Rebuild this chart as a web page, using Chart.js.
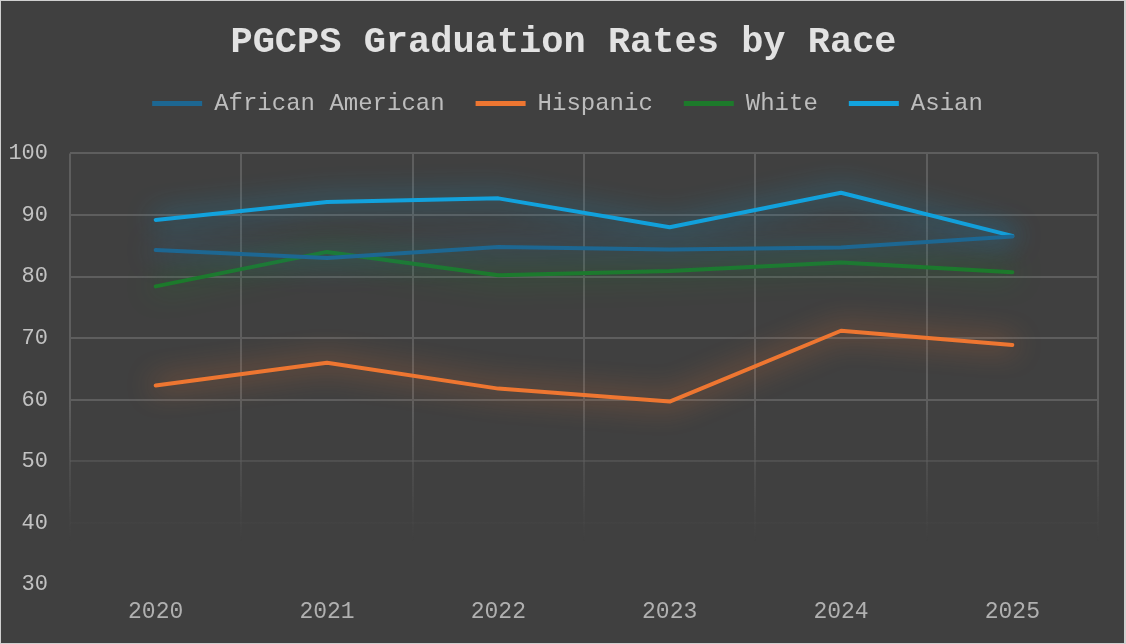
<!DOCTYPE html>
<html>
<head>
<meta charset="utf-8">
<title>PGCPS Graduation Rates by Race</title>
<script src="https://cdn.jsdelivr.net/npm/chart.js@4.4.1/dist/chart.umd.min.js"></script>
<style>
    html, body { margin: 0; padding: 0; background: #d9d9d9; }
    #wrap {
        width: 1126px; height: 644px; box-sizing: border-box;
        border: 1px solid #d0d0d0; border-right-width: 2px;
        background: #404040;
    }
</style>
</head>
<body>
<div id="wrap"><canvas id="graduacionChart"></canvas></div>
<script>
// Datos
const years = ["2020", "2021", "2022", "2023", "2024", "2025"];
const africanAmerican = [84.3, 83.0, 84.8, 84.4, 84.7, 86.5];
const hispanic = [62.3, 66.0, 61.8, 59.7, 71.2, 68.9];
const white = [78.4, 84.0, 80.2, 80.9, 82.3, 80.7];
const asian = [89.2, 92.1, 92.7, 88.0, 93.6, 86.6];
const yTicks = [30, 40, 50, 60, 70, 80, 90, 100];

const FONT = "'Liberation Mono', 'Courier New', monospace";

// Rejilla que se desvanece hacia abajo
function gridColor(c) {
    const area = c.chart.chartArea;
    if (!area) return "#5a5a5a";
    const g = c.chart.ctx.createLinearGradient(0, area.top, 0, area.bottom);
    g.addColorStop(0, "rgba(94,94,94,1)");
    g.addColorStop(0.58, "rgba(94,94,94,1)");
    g.addColorStop(0.72, "rgba(94,94,94,0.5)");
    g.addColorStop(0.84, "rgba(94,94,94,0.12)");
    g.addColorStop(0.9, "rgba(94,94,94,0)");
    g.addColorStop(1, "rgba(94,94,94,0)");
    return g;
}

// Brillo suave alrededor de cada linea
const glowPlugin = {
    id: "glow",
    beforeDatasetDraw(chart, args) {
        const ds = chart.data.datasets[args.index];
        chart.ctx.save();
        chart.ctx.shadowColor = ds.glowColor;
        chart.ctx.shadowBlur = 28;
    },
    afterDatasetDraw(chart) {
        chart.ctx.restore();
    }
};

// Espacio extra debajo de la leyenda
const legendGap = {
    id: "legendGap",
    beforeInit(chart) {
        const fitOrig = chart.legend.fit;
        chart.legend.fit = function () {
            fitOrig.bind(chart.legend)();
            this.height += 28;
        };
    },
    // titulo y leyenda un poco a la derecha, como en el original
    afterLayout(chart) {
        chart.titleBlock.left += 24;
        chart.legend.left += 32;
    }
};

function serie(label, data, color, glow) {
    return {
        label,
        data,
        borderColor: color,
        backgroundColor: color,
        glowColor: glow,
        borderWidth: 4,
        borderCapStyle: "round",
        borderJoinStyle: "round",
        pointRadius: 0,
        tension: 0
    };
}

const ctx = document.getElementById("graduacionChart").getContext("2d");

new Chart(ctx, {
    type: "line",
    data: {
        labels: years,
        datasets: [
            serie("African American", africanAmerican, "#1d6792", "rgba(35,120,170,1)"),
            serie("Hispanic", hispanic, "#ee7631", "rgba(238,118,49,1)"),
            serie("White", white, "#1d7a2b", "rgba(29,130,43,1)"),
            serie("Asian", asian, "#12a2dd", "rgba(18,162,221,0.95)")
        ]
    },
    options: {
        responsive: true,
        maintainAspectRatio: false,
        animation: false,
        layout: {
            padding: { top: 19, left: 4, right: 26, bottom: 3 }
        },
        plugins: {
            title: {
                display: true,
                text: "PGCPS Graduation Rates by Race",
                color: "#e2e2e2",
                font: { family: FONT, size: 37, weight: "bold" },
                padding: { top: 0, bottom: -4 }
            },
            legend: {
                position: "top",
                labels: {
                    color: "#bdbdbd",
                    font: { family: FONT, size: 24 },
                    boxWidth: 50,
                    boxHeight: 5,
                    padding: 31,
                    generateLabels(chart) {
                        const items = Chart.defaults.plugins.legend.labels.generateLabels(chart);
                        items.forEach(it => { it.lineWidth = 0; });
                        return items;
                    }
                }
            },
            tooltip: { enabled: false }
        },
        scales: {
            x: {
                offset: true,
                grid: { offset: true, color: gridColor, lineWidth: 2, drawTicks: false },
                border: { display: false },
                ticks: {
                    color: "#b0b0b0",
                    font: { family: FONT, size: 23 },
                    padding: 14
                }
            },
            y: {
                min: 30,
                max: 100,
                afterBuildTicks(scale) {
                    scale.ticks = yTicks.map(v => ({ value: v }));
                },
                afterFit(scale) {
                    scale.width = 65;
                },
                grid: { color: gridColor, lineWidth: 2, drawTicks: false },
                border: { display: false },
                ticks: {
                    color: "#c2c2c2",
                    font: { family: FONT, size: 22 },
                    padding: 22
                }
            }
        }
    },
    plugins: [glowPlugin, legendGap]
});
</script>
</body>
</html>
